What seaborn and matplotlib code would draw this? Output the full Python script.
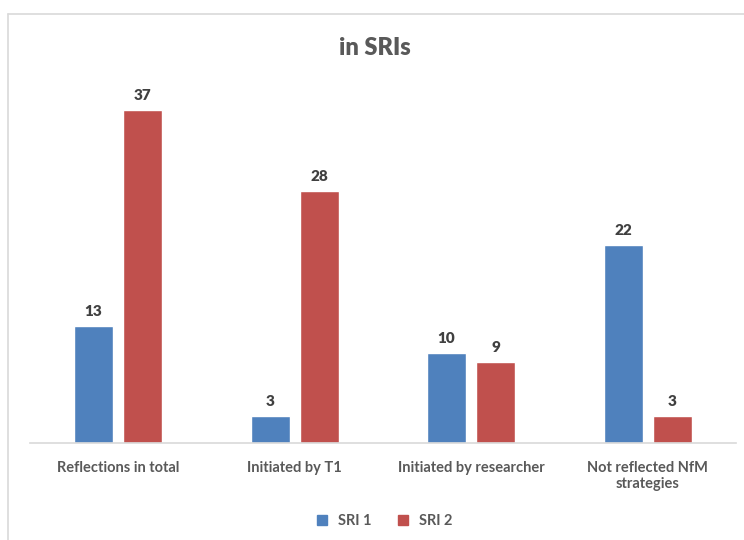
import matplotlib
matplotlib.use("Agg")
import matplotlib.pyplot as plt
from matplotlib.lines import Line2D
import seaborn as sns
import pandas as pd

categories = ["Reflections in total", "Initiated by T1", "Initiated by researcher",
              "Not reflected NfM\nstrategies"]
series_names = ["SRI 1", "SRI 2"]
sri1 = [13, 3, 10, 22]
sri2 = [37, 28, 9, 3]
colors = ["#4F81BD", "#C0504D"]

df = pd.DataFrame({
    "category": categories * 2,
    "series": [series_names[0]] * 4 + [series_names[1]] * 4,
    "value": sri1 + sri2,
})

sns.set_theme(style="white")
plt.rcParams["font.family"] = ["Lato", "DejaVu Sans"]

fig = plt.figure(figsize=(7.44, 5.40), dpi=100)
ax = fig.add_axes([30 / 744, 97 / 540, 706 / 744, 369 / 540])

sns.barplot(data=df, x="category", y="value", hue="series", order=categories,
            hue_order=series_names, palette=colors, width=0.56, gap=0.21,
            saturation=1, ax=ax, legend=False)

for cont in ax.containers:
    ax.bar_label(cont, padding=6, fontsize=11, fontweight="heavy", color="#404040")

ax.set_ylim(0, 41)
ax.set_xlim(-0.5, 3.5)
ax.set_xlabel("")
ax.set_ylabel("")
ax.set_yticks([])
for side in ["left", "right", "top"]:
    ax.spines[side].set_visible(False)
ax.spines["bottom"].set_color("#D9D9D9")
ax.spines["bottom"].set_linewidth(1.2)
ax.tick_params(axis="x", length=0, pad=13, labelsize=10.5, labelcolor="#595959")
for lbl in ax.get_xticklabels():
    lbl.set_fontweight("bold")

fig.text(375 / 744, 1 - 48 / 540, "in SRIs", ha="center", va="center",
         fontsize=17, fontweight="heavy", color="#595959")

# outer chart-area frame
fig.add_artist(Line2D([8 / 744, 8 / 744], [0, 1 - 14 / 540], transform=fig.transFigure,
                      color="#D9D9D9", lw=1.2))
fig.add_artist(Line2D([8 / 744, 1], [1 - 14 / 540, 1 - 14 / 540], transform=fig.transFigure,
                      color="#D9D9D9", lw=1.2))

handles = [Line2D([], [], marker="s", linestyle="", markersize=7,
                  markerfacecolor=c, markeredgecolor=c) for c in colors]
leg = fig.legend(handles, series_names, loc="center", bbox_to_anchor=(380 / 744, 19 / 540),
                 ncol=2, frameon=False, handletextpad=0.1, columnspacing=1.2,
                 prop={"size": 10.5, "weight": "bold"})
for t in leg.get_texts():
    t.set_color("#595959")

fig.savefig("out.png", dpi=100, facecolor="white")
